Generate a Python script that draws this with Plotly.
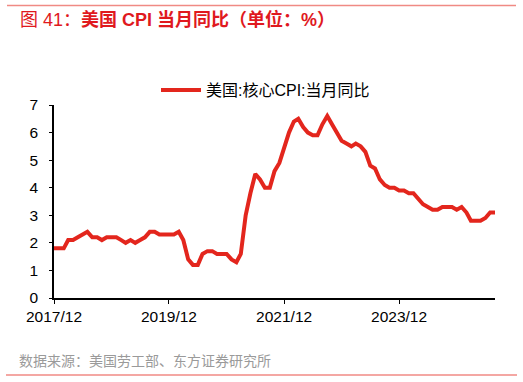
import plotly.graph_objects as go
import pandas as pd

months = pd.date_range("2017-12-01", "2025-08-01", freq="MS")
core_cpi_yoy = [
    1.8,
    1.8, 1.8, 2.1, 2.1, 2.2, 2.3, 2.4, 2.2, 2.2, 2.1, 2.2, 2.2,
    2.2, 2.1, 2.0, 2.1, 2.0, 2.1, 2.2, 2.4, 2.4, 2.3, 2.3, 2.3,
    2.3, 2.4, 2.1, 1.4, 1.2, 1.2, 1.6, 1.7, 1.7, 1.6, 1.6, 1.6,
    1.4, 1.3, 1.6, 3.0, 3.8, 4.5, 4.3, 4.0, 4.0, 4.6, 4.9, 5.5,
    6.0, 6.4, 6.5, 6.2, 6.0, 5.9, 5.9, 6.3, 6.6, 6.3, 6.0, 5.7,
    5.6, 5.5, 5.6, 5.5, 5.3, 4.8, 4.7, 4.3, 4.1, 4.0, 4.0, 3.9,
    3.9, 3.8, 3.8, 3.6, 3.4, 3.3, 3.2, 3.2, 3.3, 3.3, 3.3, 3.2,
    3.3, 3.1, 2.8, 2.8, 2.8, 2.9, 3.1, 3.1,
]
series_name = "美国:核心CPI:当月同比"
y_ticks = [0, 1, 2, 3, 4, 5, 6, 7]
title_prefix = "图 41："
title_main = "美国 CPI 当月同比（单位：%）"
source_text = "数据来源：美国劳工部、东方证券研究所"

FONT = "Liberation Sans, Arial, Noto Sans CJK SC, sans-serif"
RED = "#E3261D"

W, H = 523, 382
L, R, T, B = 54, 28, 105, 84
pw, ph = W - L - R, H - T - B

def px(xp):
    return (xp - L) / pw

def py(yp):
    return (H - B - yp) / ph

fig = go.Figure()
fig.add_trace(go.Scatter(
    x=months, y=core_cpi_yoy, mode="lines", name=series_name,
    line=dict(color=RED, width=4), showlegend=True,
))

fig.update_layout(
    width=W, height=H,
    margin=dict(l=L, r=R, t=T, b=B),
    paper_bgcolor="white", plot_bgcolor="white",
    font=dict(family=FONT, size=15, color="black"),
    showlegend=True,
    legend=dict(
        x=px(156), y=py(90), xanchor="left", yanchor="middle",
        orientation="h", font=dict(size=16, family=FONT, color="black"),
        bgcolor="rgba(0,0,0,0)", itemwidth=40,
    ),
    xaxis=dict(
        range=[months[0], months[-1]],
        tickmode="linear", tick0="2017-12-01", dtick="M24",
        tickformat="%Y/%m", showgrid=False, zeroline=False,
        showline=True, linecolor="black", linewidth=1.5,
        ticks="outside", ticklen=4, tickwidth=1, tickcolor="black",
        tickfont=dict(size=15.5, family=FONT, color="black"),
    ),
    yaxis=dict(
        range=[0, 7], tickvals=y_ticks, ticktext=[str(v) for v in y_ticks],
        showgrid=False, zeroline=False,
        showline=True, linecolor="black", linewidth=1.5,
        ticks="outside", ticklen=3, tickwidth=1, tickcolor="black",
        ticklabelstandoff=8,
        tickfont=dict(size=15.5, family=FONT, color="black"),
    ),
    shapes=[
        dict(type="line", xref="paper", yref="paper",
             x0=px(7), x1=px(516), y0=py(5.5), y1=py(5.5),
             line=dict(color="#F08A84", width=1.5)),
        dict(type="line", xref="paper", yref="paper",
             x0=px(6), x1=px(517), y0=py(375), y1=py(375),
             line=dict(color="#F08A84", width=1.5)),
    ],
    annotations=[
        dict(xref="paper", yref="paper", x=px(18), y=py(19.5),
             xanchor="left", yanchor="middle", showarrow=False,
             text=title_prefix + "<b>" + title_main + "</b>",
             font=dict(size=18, color="#E0191E", family=FONT)),
        dict(xref="paper", yref="paper", x=px(17), y=py(361),
             xanchor="left", yanchor="middle", showarrow=False,
             text=source_text,
             font=dict(size=14, color="#9A9A9A", family=FONT)),
    ],
)

fig.write_html("out.html",
               config={"displayModeBar": False},
               post_script="document.body.style.margin='0';document.body.style.padding='0';")
